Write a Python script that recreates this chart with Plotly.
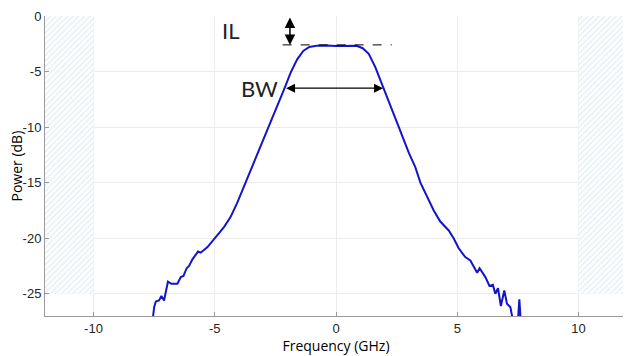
import plotly.graph_objects as go

# Measured spectrum (frequency in GHz, power in dB)
freq_ghz = [-7.62, -7.55, -7.5, -7.43, -7.3, -7.2, -7.09, -6.93, -6.79, -6.54, -6.4, -6.29,
            -6.16, -6.06, -5.92, -5.69, -5.58, -5.3, -4.96, -4.62, -4.35, -4.07, -3.73, -3.25,
            -2.79, -2.45, -2.12, -1.87, -1.6, -1.35, -1.1, -0.8, -0.4, 0.0, 0.4, 0.85, 1.1, 1.35,
            1.62, 1.97, 2.59, 3.0, 3.27, 3.48, 3.82, 4.03, 4.3, 4.65, 4.85, 5.06, 5.33, 5.54,
            5.82, 5.92, 6.16, 6.33, 6.47, 6.57, 6.68, 6.8, 6.94, 7.05, 7.19, 7.39, 7.47, 7.56, 7.65]
power_db = [-28.5, -27.0, -26.2, -25.7, -25.6, -25.2, -25.6, -23.9, -24.1, -24.1, -23.5, -23.4,
            -22.7, -22.5, -21.9, -21.2, -21.3, -20.8, -19.9, -19.0, -18.1, -16.8, -15.0, -12.5,
            -10.0, -8.2, -6.5, -5.1, -3.9, -3.15, -2.78, -2.67, -2.65, -2.7, -2.66, -2.68, -2.9, -3.4,
            -4.6, -6.5, -10.0, -12.3, -13.6, -15.0, -16.6, -17.5, -18.5, -19.3, -20.0, -20.9, -21.7, -22.0,
            -23.1, -22.7, -23.5, -24.3, -24.2, -25.0, -24.5, -26.1, -24.7, -25.9, -26.2, -28.5, -28.5, -25.5, -28.5]

# Hatched out-of-band regions
left_band_x = [-12, -10, -10, -12, -12]
right_band_x = [10, 12, 12, 10, 10]
band_y = [0, 0, -25, -25, 0]

# Annotation values
il_level = -2.6
il_x = -1.9
bw_level = -6.5
bw_edges = [-2.12, 1.94]
dash_x = [-2.2, 2.3]

x_ticks = [-10, -5, 0, 5, 10]
y_ticks = [0, -5, -10, -15, -20, -25]

fig = go.Figure()
for bx in (left_band_x, right_band_x):
    fig.add_trace(go.Scatter(
        x=bx, y=band_y, mode="lines", fill="toself",
        line=dict(width=0, color="rgba(0,0,0,0)"),
        fillcolor="rgba(0,0,0,0)",
        fillpattern=dict(shape="/", fgcolor="#cadcec", bgcolor="white", size=4, solidity=0.35),
        hoverinfo="skip", showlegend=False))

fig.add_trace(go.Scatter(
    x=freq_ghz, y=power_db, mode="lines",
    line=dict(color="#1414c8", width=2), showlegend=False, cliponaxis=True))

fig.add_trace(go.Scatter(
    x=dash_x, y=[il_level, il_level], mode="lines",
    line=dict(color="black", width=1, dash="dash"), showlegend=False))

# IL arrow (double-headed)
fig.add_annotation(x=il_x, y=il_level, ax=il_x, ay=0, xref="x", yref="y", axref="x", ayref="y",
                   text="", showarrow=True, arrowhead=2, arrowside="end+start",
                   arrowsize=1.4, arrowwidth=1.5, arrowcolor="black")
# BW arrow
fig.add_annotation(x=bw_edges[1], y=bw_level, ax=bw_edges[0], ay=bw_level,
                   xref="x", yref="y", axref="x", ayref="y",
                   text="", showarrow=True, arrowhead=2, arrowside="end+start",
                   arrowsize=1.5, arrowwidth=1.2, arrowcolor="black")

fig.add_annotation(x=-3.9, y=-1.3, text="IL", showarrow=False, xanchor="right",
                   font=dict(family="Lato, Liberation Sans, Arial", size=22, color="#222"))
fig.add_annotation(x=-2.33, y=-6.5, text="BW", showarrow=False, xanchor="right",
                   font=dict(family="Lato, Liberation Sans, Arial", size=22, color="#222"))

# Y-axis title placed as a rotated annotation
fig.add_annotation(x=-0.049, y=0.5, xref="paper", yref="paper", text="Power (dB)",
                   showarrow=False, textangle=-90, xanchor="center", yanchor="middle",
                   font=dict(family="Open Sans, Liberation Sans", size=14, color="black"))

# The page body adds an 8 px offset, so the figure is sized and margined to compensate.
fig.update_layout(
    width=623, height=348,
    margin=dict(l=37, r=4, t=8, b=40),
    plot_bgcolor="white", paper_bgcolor="white",
    font=dict(family="Liberation Sans, Arial", size=13, color="#262626"),
)
fig.update_xaxes(
    range=[-12, 12], tickvals=x_ticks, ticktext=[str(v) for v in x_ticks],
    showgrid=True, gridcolor="#ececec", gridwidth=1, zeroline=False,
    showline=True, linecolor="#9a9a9a", linewidth=1, mirror=False,
    ticks="inside", ticklen=4, tickcolor="#9a9a9a", automargin=False,
    title=dict(text="Frequency (GHz)", font=dict(family="Open Sans, Liberation Sans", size=14, color="black"), standoff=2),
)
fig.update_yaxes(
    range=[-27, 0], tickvals=y_ticks, ticktext=[str(v) for v in y_ticks],
    showgrid=True, gridcolor="#ececec", gridwidth=1, zeroline=False,
    showline=True, linecolor="#9a9a9a", linewidth=1, mirror=False,
    ticks="inside", ticklen=4, tickcolor="#9a9a9a", automargin=False,
)

fig.write_html("out.html")
